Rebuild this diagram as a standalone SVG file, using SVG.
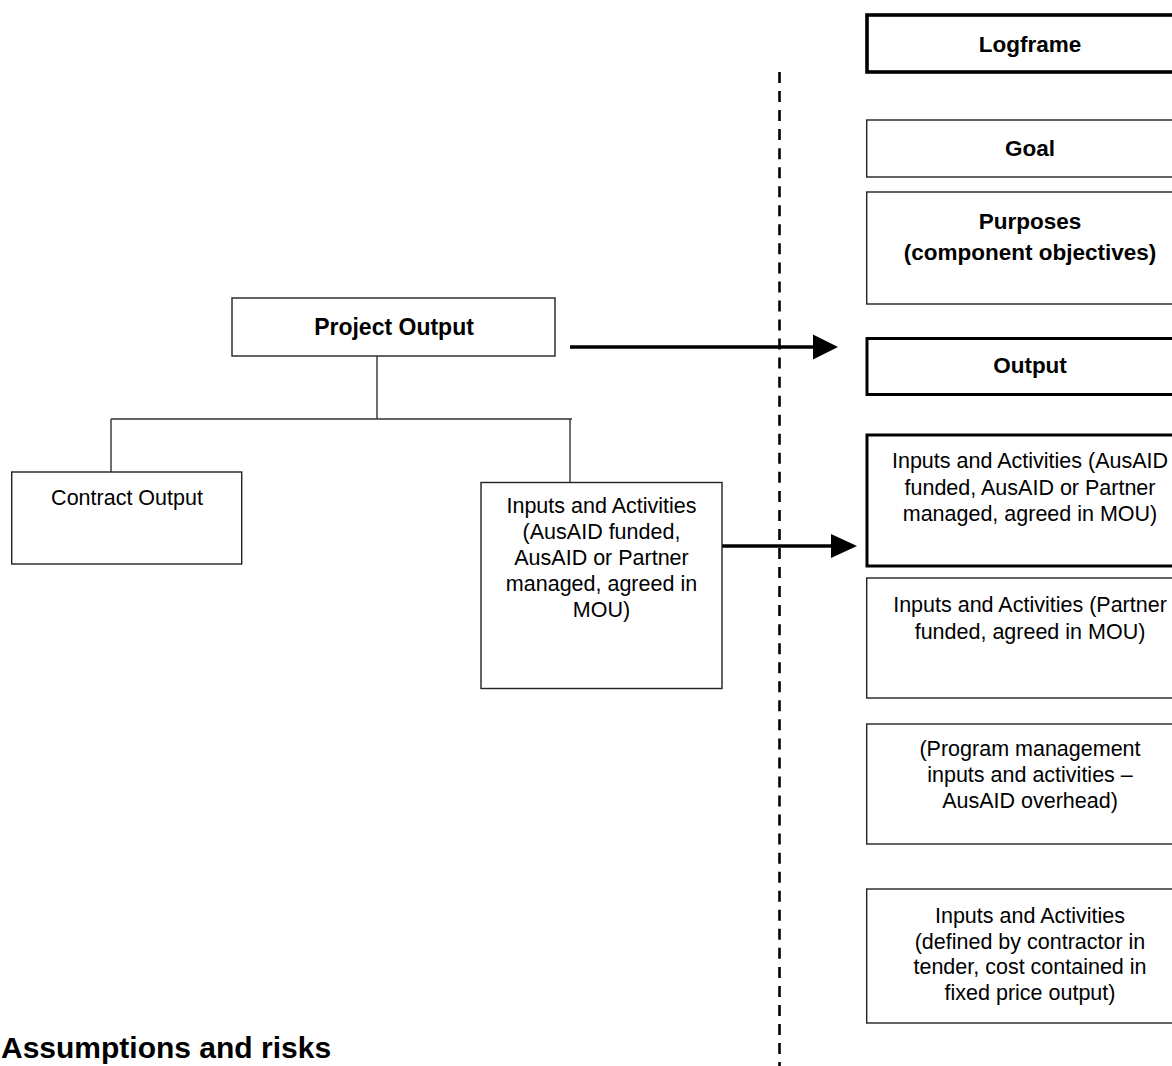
<svg xmlns="http://www.w3.org/2000/svg" width="1172" height="1066" viewBox="0 0 1172 1066">
<defs>
<style>
.box{fill:#fff;stroke:#222;stroke-width:1.4}
.thick{fill:#fff;stroke:#000;stroke-width:3}
.thicker{fill:#fff;stroke:#000;stroke-width:3.6}
.t{font-family:"Liberation Sans",Arial,sans-serif;font-size:21.5px;fill:#000;text-anchor:middle}
.b{font-family:"Liberation Sans",Arial,sans-serif;font-size:22.5px;font-weight:bold;fill:#000;text-anchor:middle}
.tree{fill:none;stroke:#333;stroke-width:1.4}
.arrow{fill:none;stroke:#000;stroke-width:3.6}
.head{fill:#000}
</style>
</defs>
<rect width="1172" height="1066" fill="#fff"/>

<g id="connectors">
<line x1="779.5" y1="72" x2="779.5" y2="1066" stroke="#000" stroke-width="2.6" stroke-dasharray="11 8.04"/>
<path class="tree" d="M377 356V419M111 419H572M111 419V472M570 419V482"/>
<line class="arrow" x1="570" y1="347" x2="815" y2="347"/>
<polygon class="head" points="813,334.5 838,347 813,359.5"/>
<line class="arrow" x1="722" y1="546" x2="833" y2="546"/>
<polygon class="head" points="831,534 857,546 831,558"/>
</g>

<g id="node-logframe"><rect class="thicker" x="867" y="15" width="330" height="57"/><text class="b" x="1030" y="52">Logframe</text></g>
<g id="node-goal"><rect class="box" x="866.7" y="120" width="330" height="57"/><text class="b" x="1030" y="156">Goal</text></g>
<g id="node-purposes"><rect class="box" x="866.7" y="192" width="330" height="112"/><text class="b" x="1030" y="229">Purposes</text><text class="b" x="1030" y="260">(component objectives)</text></g>
<g id="node-output"><rect class="thick" x="867" y="338.5" width="330" height="56"/><text class="b" x="1030" y="373">Output</text></g>
<g id="node-inputs-ausaid"><rect class="thick" x="867" y="435" width="330" height="131"/><text class="t" x="1030" y="468">Inputs and Activities (AusAID</text><text class="t" x="1030" y="494.5">funded, AusAID or Partner</text><text class="t" x="1030" y="521">managed, agreed in MOU)</text></g>
<g id="node-inputs-partner"><rect class="box" x="866.7" y="578" width="330" height="120"/><text class="t" x="1030" y="612">Inputs and Activities (Partner</text><text class="t" x="1030" y="638.5">funded, agreed in MOU)</text></g>
<g id="node-program-mgmt"><rect class="box" x="866.7" y="724" width="330" height="120"/><text class="t" x="1030" y="756">(Program management</text><text class="t" x="1030" y="782">inputs and activities –</text><text class="t" x="1030" y="807.5">AusAID overhead)</text></g>
<g id="node-inputs-contractor"><rect class="box" x="866.7" y="889" width="330" height="134"/><text class="t" x="1030" y="923">Inputs and Activities</text><text class="t" x="1030" y="948.7">(defined by contractor in</text><text class="t" x="1030" y="974.4">tender, cost contained in</text><text class="t" x="1030" y="1000">fixed price output)</text></g>

<g id="node-project-output"><rect class="box" x="232" y="298" width="323" height="58"/><text class="b" x="394" y="335" style="font-size:23px">Project Output</text></g>
<g id="node-contract-output"><rect class="box" x="11.7" y="472" width="230" height="92"/><text class="t" x="127" y="505">Contract Output</text></g>
<g id="node-inputs-left"><rect class="box" x="481" y="482.5" width="241" height="206"/><text class="t" x="601.5" y="513">Inputs and Activities</text><text class="t" x="601.5" y="539">(AusAID funded,</text><text class="t" x="601.5" y="565">AusAID or Partner</text><text class="t" x="601.5" y="591">managed, agreed in</text><text class="t" x="601.5" y="617">MOU)</text></g>

<g id="heading"><text x="1" y="1058" style="font-family:'Liberation Sans',Arial,sans-serif;font-size:30px;font-weight:bold;fill:#000">Assumptions and risks</text></g>
</svg>
